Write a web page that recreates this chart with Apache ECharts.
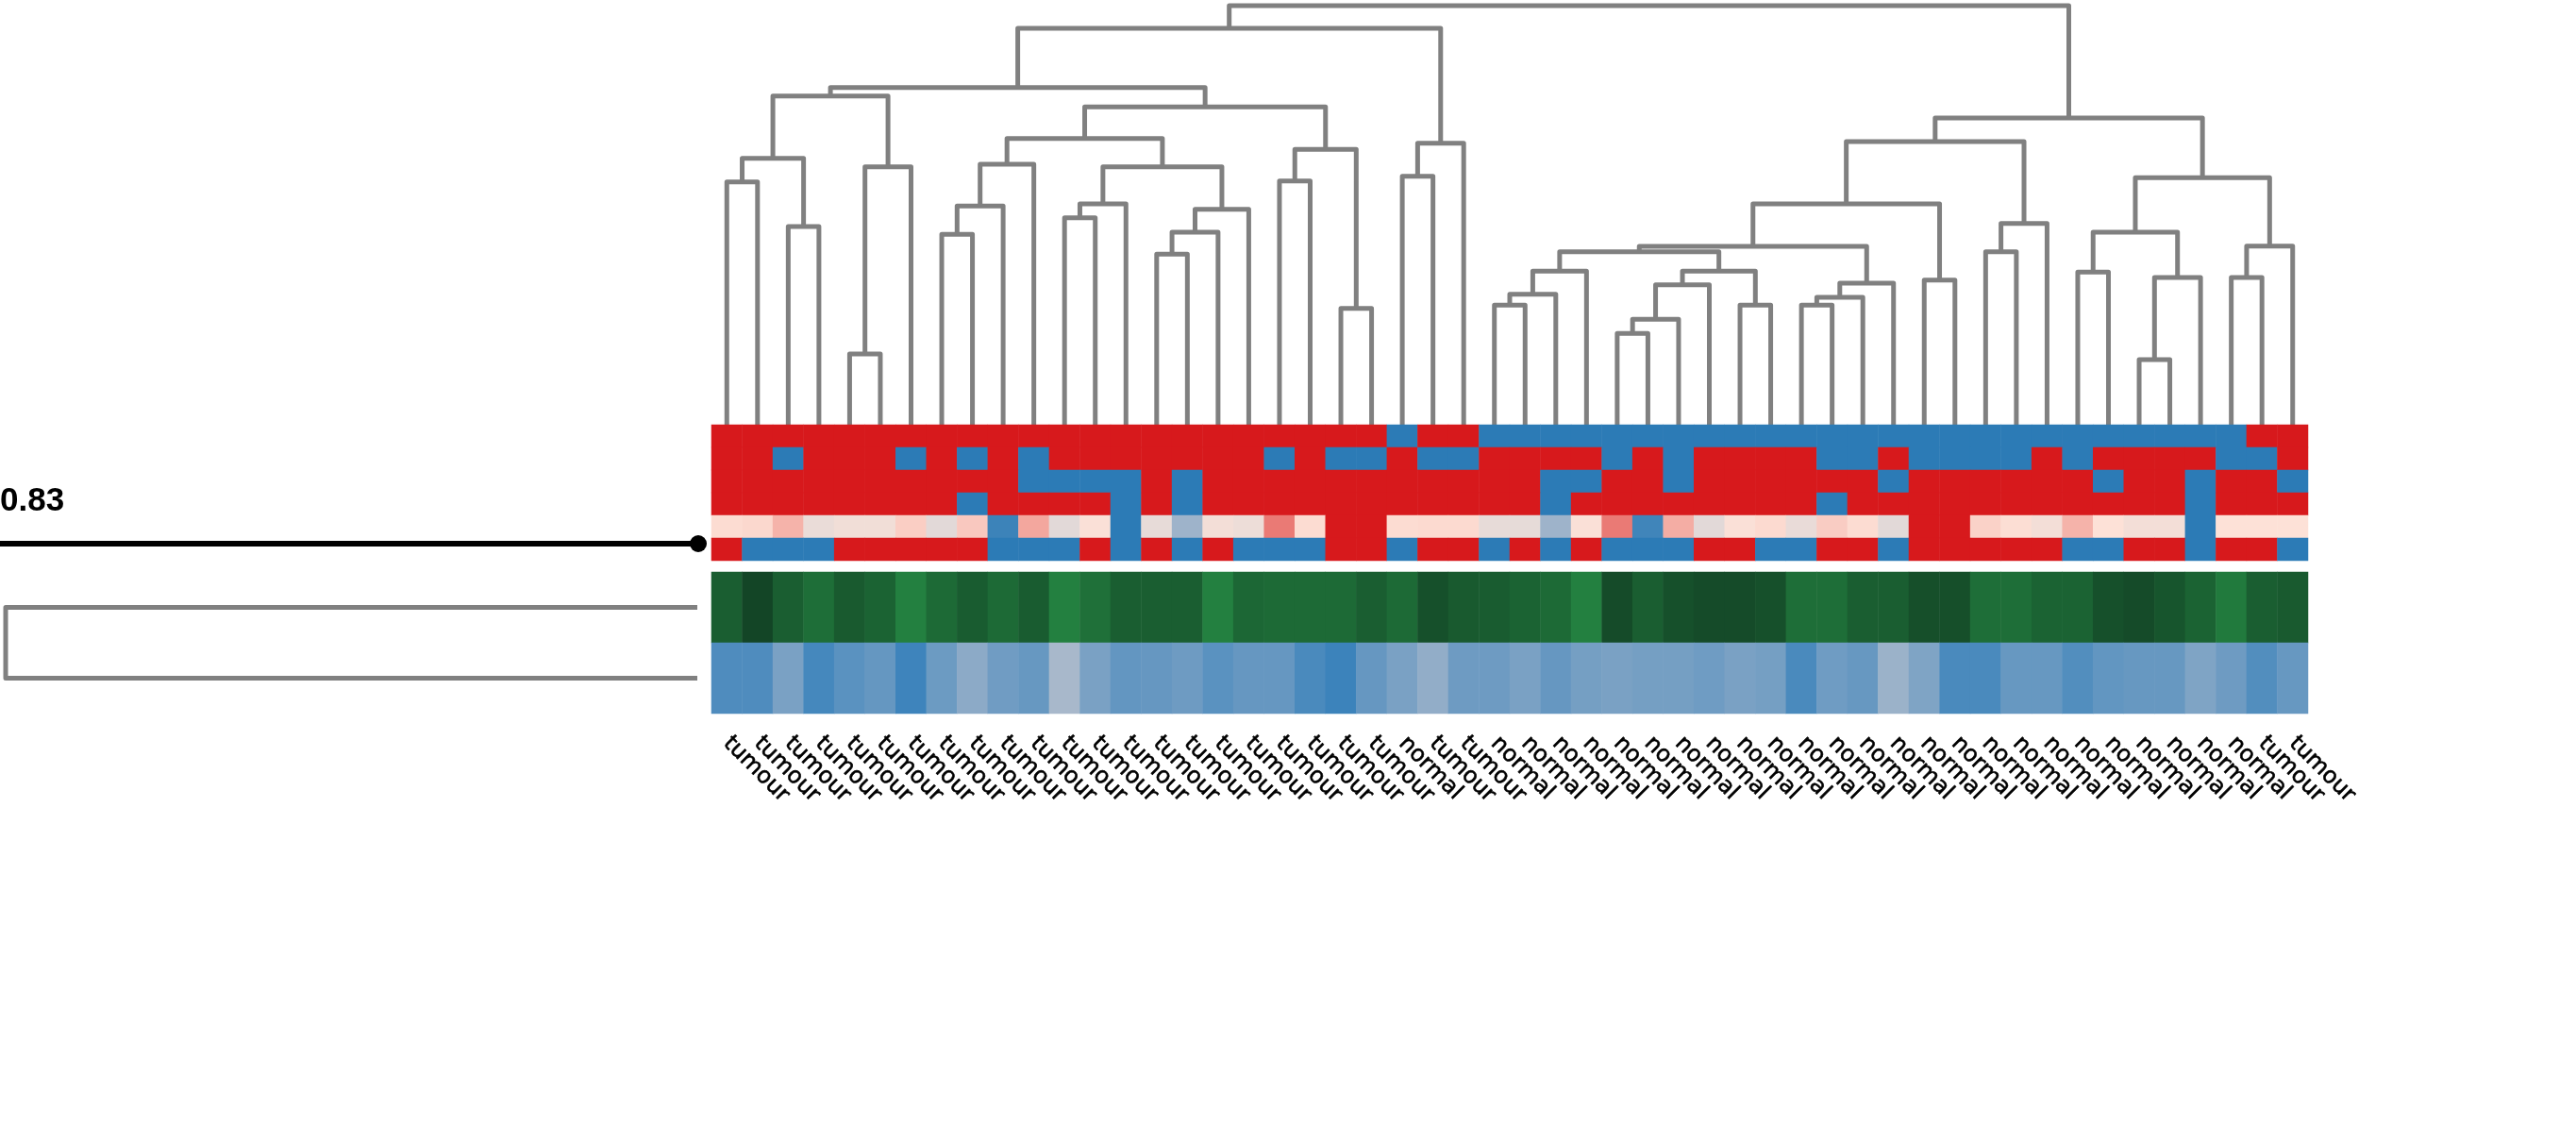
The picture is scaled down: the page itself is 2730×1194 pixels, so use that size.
<!DOCTYPE html>
<html><head><meta charset="utf-8">
<script src="https://cdn.jsdelivr.net/npm/echarts@6/dist/echarts.min.js"></script>
<style>html,body{margin:0;padding:0;background:#fff}#c{width:2730px;height:1194px}</style>
</head><body><div id="c"></div>
<script>
// ---------- DATA ----------
const sampleLabels = [
 'tumour','tumour','tumour','tumour','tumour','tumour','tumour','tumour','tumour','tumour',
 'tumour','tumour','tumour','tumour','tumour','tumour','tumour','tumour','tumour','tumour',
 'tumour','tumour','normal','tumour','tumour','normal','normal','normal','normal','normal',
 'normal','normal','normal','normal','normal','normal','normal','normal','normal','normal',
 'normal','normal','normal','normal','normal','normal','normal','normal','normal','normal',
 'tumour','tumour'];

const topRowNames = ['row1','row2','row3','row4','row5','row6'];
const row1 = [1,1,1,1,1,1,1,1,1,1, 1,1,1,1,1,1,1,1,1,1, 1,1,-1,1,1,-1,-1,-1,-1,-1, -1,-1,-1,-1,-1,-1,-1,-1,-1,-1, -1,-1,-1,-1,-1,-1,-1,-1,-1,-1, 1,1];
const row2 = [1,1,-1,1,1,1,-1,1,-1,1, -1,1,1,1,1,1,1,1,-1,1, -1,-1,1,-1,-1,1,1,1,1,-1, 1,-1,1,1,1,1,-1,-1,1,-1, -1,-1,-1,1,-1,1,1,1,1,-1, -1,1];
const row3 = [1,1,1,1,1,1,1,1,1,1, -1,-1,-1,-1,1,-1,1,1,1,1, 1,1,1,1,1,1,1,-1,-1,1, 1,-1,1,1,1,1,1,1,-1,1, 1,1,1,1,1,-1,1,1,-1,1, 1,-1];
const row4 = [1,1,1,1,1,1,1,1,-1,1, 1,1,1,-1,1,-1,1,1,1,1, 1,1,1,1,1,1,1,-1,1,1, 1,1,1,1,1,1,-1,1,1,1, 1,1,1,1,1,1,1,1,-1,1, 1,1];
const row5 = [0.36,0.38,0.57,0.12,0.2,0.2,0.43,0.02,0.46,-0.92, 0.63,0.02,0.3,-1,0.08,-0.4,0.22,0.15,0.76,0.36, 1,1,0.36,0.37,0.37,0.08,0.07,-0.4,0.3,0.76, -0.9,0.6,0.02,0.3,0.37,0.1,0.44,0.36,0.02,1, 1,0.41,0.35,0.22,0.57,0.33,0.22,0.22,-1,0.33, 0.33,0.33];
const row6 = [1,-1,-1,-1,1,1,1,1,1,-1, -1,-1,1,-1,1,-1,1,-1,-1,-1, 1,1,-1,1,1,-1,1,-1,1,-1, -1,-1,1,1,-1,-1,1,1,-1,1, 1,1,1,1,-1,-1,1,1,-1,1, 1,-1];

const trackNames = ['green','blue'];
const greenTrack = [0.58,1.0,0.58,0.31,0.64,0.49,0.0,0.37,0.61,0.37, 0.61,0.0,0.27,0.58,0.58,0.58,0.0,0.42,0.37,0.37, 0.37,0.58,0.37,0.81,0.64,0.61,0.49,0.37,0.0,0.9, 0.58,0.81,0.9,0.9,0.81,0.31,0.31,0.58,0.58,0.83, 0.83,0.31,0.31,0.49,0.49,0.81,0.9,0.73,0.49,0.1, 0.58,0.64];
const blueTrack = [0.81,0.81,0.43,0.9,0.71,0.62,0.96,0.55,0.27,0.52, 0.6,0.02,0.43,0.63,0.61,0.54,0.71,0.61,0.61,0.86, 0.98,0.61,0.43,0.21,0.54,0.54,0.43,0.61,0.47,0.43, 0.47,0.47,0.53,0.43,0.47,0.86,0.53,0.6,0.13,0.38, 0.86,0.86,0.6,0.6,0.79,0.64,0.6,0.6,0.38,0.54, 0.79,0.6];

// column dendrogram: [left, right, height]; numbers = leaf index, 'mK' = merge K
const colMerges = [
 [0,1,2.573],[2,3,2.10],['m0','m1',2.823],[4,5,0.75],['m3',6,2.733],['m2','m4',3.483],
 [7,8,2.017],['m6',9,2.317],['m7',10,2.76],[11,12,2.193],['m9',13,2.34],
 [14,15,1.807],['m11',16,2.04],['m12',17,2.283],['m10','m13',2.733],
 [18,19,2.583],[20,21,1.233],['m15','m16',2.917],['m8','m14',3.033],['m18','m17',3.367],
 ['m5','m19',3.573],[22,23,2.633],['m21',24,2.983],['m20','m22',4.20],
 [25,26,1.267],['m24',27,1.383],['m25',28,1.627],[29,30,0.967],['m27',31,1.117],['m28',32,1.483],
 [33,34,1.267],['m29','m30',1.627],['m26','m31',1.833],[35,36,1.267],['m33',37,1.35],['m34',38,1.50],
 ['m32','m35',1.89],[39,40,1.533],['m36','m37',2.34],[41,42,1.833],['m39',43,2.133],['m38','m40',3.00],
 [44,45,1.617],[46,47,0.69],['m43',48,1.56],['m42','m44',2.04],[49,50,1.56],['m46',51,1.893],
 ['m45','m47',2.617],['m41','m48',3.25],['m23','m49',4.44]
];
// row dendrogram for the two lower tracks
const rowMerges = [[0,1,1.0]];
const cutValue = 0.83;

// ---------- BUILD ----------
const N = sampleLabels.length;
const nodePos = [], nodeH = [];
function posOf(r){ return typeof r === 'number' ? [r+0.5, 0] : [nodePos[+r.slice(1)], nodeH[+r.slice(1)]]; }
const dendroData = colMerges.map((m,k)=>{
  const a = posOf(m[0]), b = posOf(m[1]);
  nodePos[k] = (a[0]+b[0])/2; nodeH[k] = m[2];
  return [a[0], a[1], b[0], b[1], m[2]];
});
const rootH = Math.max(...colMerges.map(m=>m[2]));
const rowDendroData = rowMerges.map(m=>[0, m[0], 0, m[1], m[2]]);

const topRows = [row1,row2,row3,row4,row5,row6];
const topData = [];
topRows.forEach((r,ri)=>r.forEach((v,ci)=>topData.push([ci,ri,v])));
const greenData = greenTrack.map((v,i)=>[i,0,v]);
const blueData = blueTrack.map((v,i)=>[i,1,v]);

const chart = echarts.init(document.getElementById('c'), null, {renderer:'canvas'});
const option = {
  animation:false,
  backgroundColor:'#ffffff',
  grid:[
    {left:754, top:6, width:1692, height:444, outerBoundsMode:'none'},
    {left:754, top:450, width:1692, height:144, outerBoundsMode:'none'},
    {left:754, top:606, width:1692, height:150, outerBoundsMode:'none'},
    {left:6, top:606, width:733, height:150, outerBoundsMode:'none'}
  ],
  xAxis:[
    {gridIndex:0, type:'value', min:0, max:N, show:false},
    {gridIndex:1, type:'category', data:sampleLabels, show:false},
    {gridIndex:2, type:'category', data:sampleLabels,
      axisLine:{show:false}, axisTick:{show:false}, splitLine:{show:false},
      axisLabel:{interval:0, rotate:-45, margin:28, fontSize:24, fontFamily:'DejaVu Sans', color:'#000',
        textBorderColor:'#000', textBorderWidth:0.6}},
    {gridIndex:3, type:'value', min:0, max:Math.max(...rowMerges.map(m=>m[2])), inverse:true, show:false}
  ],
  yAxis:[
    {gridIndex:0, type:'value', min:0, max:rootH, show:false},
    {gridIndex:1, type:'category', data:topRowNames, inverse:true, show:false},
    {gridIndex:2, type:'category', data:trackNames, inverse:true, show:false},
    {gridIndex:3, type:'category', data:trackNames, inverse:true, show:false}
  ],
  visualMap:[
    {type:'continuous', show:false, seriesIndex:1, dimension:2, min:-1, max:1,
      inRange:{color:['#2c7bb6','#6d9cc4','#aab9cb','#e0d9d8','#fde1d7','#f2a097','#d7191c']}},
    {type:'continuous', show:false, seriesIndex:2, dimension:2, min:0, max:1,
      inRange:{color:['#238040','#134526']}},
    {type:'continuous', show:false, seriesIndex:3, dimension:2, min:0, max:1,
      inRange:{color:['#aab9cb','#3a82bb']}}
  ],
  series:[
    {type:'custom', xAxisIndex:0, yAxisIndex:0, clip:false, silent:true, data:dendroData,
      renderItem:function(params, api){
        const p1 = api.coord([api.value(0), api.value(1)]);
        const p2 = api.coord([api.value(0), api.value(4)]);
        const p3 = api.coord([api.value(2), api.value(4)]);
        const p4 = api.coord([api.value(2), api.value(3)]);
        return {type:'polyline', shape:{points:[p1,p2,p3,p4]},
          style:{stroke:'#808080', lineWidth:5, fill:null, lineJoin:'round'}};
      }},
    {type:'heatmap', xAxisIndex:1, yAxisIndex:1, data:topData, silent:true, emphasis:{disabled:true}},
    {type:'heatmap', xAxisIndex:2, yAxisIndex:2, data:greenData, silent:true, emphasis:{disabled:true}},
    {type:'heatmap', xAxisIndex:2, yAxisIndex:2, data:blueData, silent:true, emphasis:{disabled:true}},
    {type:'custom', xAxisIndex:3, yAxisIndex:3, clip:false, silent:true, data:rowDendroData,
      renderItem:function(params, api){
        const p1 = api.coord([api.value(0), api.value(1)]);
        const p2 = api.coord([api.value(4), api.value(1)]);
        const p3 = api.coord([api.value(4), api.value(3)]);
        const p4 = api.coord([api.value(2), api.value(3)]);
        return {type:'polyline', shape:{points:[p1,p2,p3,p4]},
          style:{stroke:'#808080', lineWidth:5, fill:null, lineJoin:'round'}};
      }}
  ],
  graphic:[
    {type:'text', x:0, y:531, style:{text:String(cutValue), font:'bold 35px "Liberation Sans"', fill:'#000', verticalAlign:'middle', align:'left'}},
    {type:'line', shape:{x1:0, y1:576, x2:740, y2:576}, style:{stroke:'#000', lineWidth:6}},
    {type:'circle', shape:{cx:740, cy:576, r:9}, style:{fill:'#000'}}
  ]
};
chart.setOption(option);
</script>
</body></html>
